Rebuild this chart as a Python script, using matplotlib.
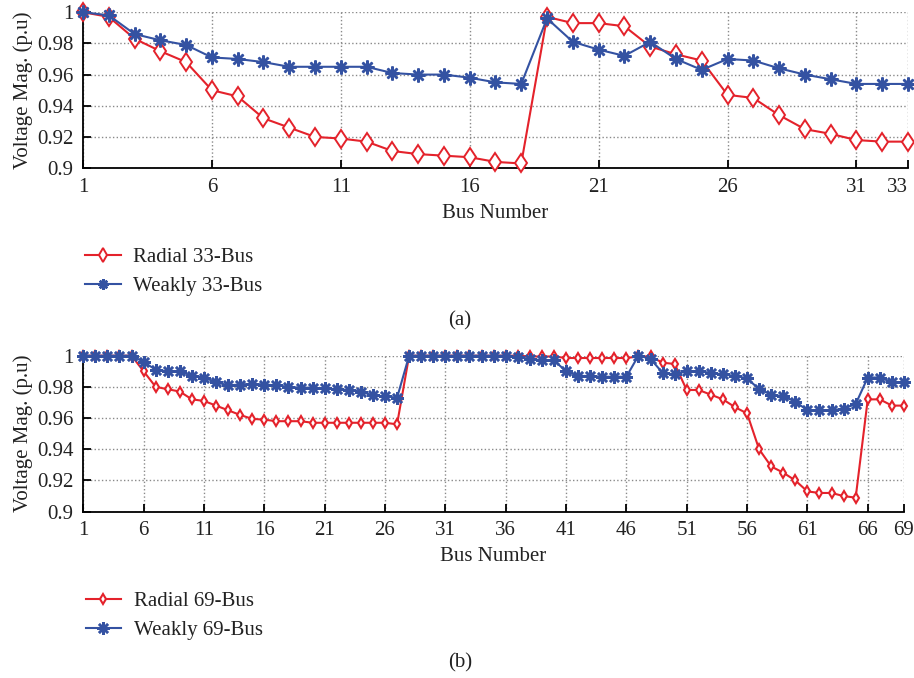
import numpy as np
import matplotlib.pyplot as plt

plt.rcParams['font.family'] = ['Liberation Serif', 'DejaVu Serif']

red = '#e4222b'
blue = '#3452a2'

# 33-bus system
bus33 = np.arange(1, 34)
radial33 = [1.000, 0.997, 0.983, 0.975, 0.968, 0.950, 0.946, 0.932, 0.926, 0.920,
            0.919, 0.917, 0.911, 0.909, 0.908, 0.907, 0.904, 0.903, 0.997, 0.993,
            0.993, 0.991, 0.978, 0.973, 0.969, 0.947, 0.945, 0.934, 0.925, 0.922,
            0.918, 0.917, 0.917]
weakly33 = [1.000, 0.998, 0.986, 0.982, 0.979, 0.971, 0.970, 0.968, 0.965, 0.965,
            0.965, 0.965, 0.961, 0.960, 0.960, 0.958, 0.955, 0.954, 0.996, 0.981,
            0.976, 0.972, 0.981, 0.970, 0.963, 0.970, 0.969, 0.964, 0.960, 0.957,
            0.954, 0.954, 0.954]

# 69-bus system
bus69 = np.arange(1, 70)
radial69 = [1.000, 1.000, 1.000, 1.000, 1.000, 0.990, 0.980, 0.9785, 0.977, 0.972,
            0.971, 0.968, 0.965, 0.962, 0.9595, 0.959, 0.958, 0.958, 0.958, 0.957,
            0.957, 0.957, 0.957, 0.957, 0.957, 0.957, 0.956, 1.000, 1.000, 1.000,
            1.000, 1.000, 1.000, 1.000, 1.000, 1.000, 1.000, 0.9995, 0.9995, 0.9995,
            0.9985, 0.9985, 0.9985, 0.9985, 0.9985, 0.9985, 0.9995, 0.9995, 0.9955, 0.9947,
            0.978, 0.978, 0.975, 0.972, 0.967, 0.963, 0.940, 0.929, 0.925, 0.920,
            0.913, 0.912, 0.912, 0.910, 0.909, 0.972, 0.972, 0.968, 0.968]
weakly69 = [1.000, 1.000, 1.000, 1.000, 1.000, 0.996, 0.991, 0.990, 0.990, 0.987,
            0.986, 0.983, 0.981, 0.9815, 0.982, 0.9815, 0.981, 0.980, 0.9795, 0.9795,
            0.979, 0.9785, 0.978, 0.977, 0.9745, 0.974, 0.973, 1.000, 1.000, 1.000,
            1.000, 1.000, 1.000, 1.000, 1.000, 1.000, 0.999, 0.998, 0.997, 0.997,
            0.990, 0.987, 0.987, 0.9865, 0.9865, 0.9865, 1.000, 0.998, 0.989, 0.988,
            0.990, 0.990, 0.989, 0.988, 0.987, 0.9855, 0.9785, 0.975, 0.974, 0.9705,
            0.965, 0.965, 0.965, 0.966, 0.969, 0.986, 0.986, 0.983, 0.983]

yticks = [0.9, 0.92, 0.94, 0.96, 0.98, 1.0]
ytick_labels = ['0.9', '0.92', '0.94', '0.96', '0.98', '1']
xticks33 = [1, 6, 11, 16, 21, 26, 31, 33]
xticks69 = [1, 6, 11, 16, 21, 26, 31, 36, 41, 46, 51, 56, 61, 66, 69]

asterisk = (8, 2, 0)
fs = 15

fig = plt.figure(figsize=(9.14, 6.78), dpi=100)
ax1 = fig.add_axes([0.0908, 0.752, 0.9026, 0.230])
ax2 = fig.add_axes([0.0911, 0.2453, 0.8979, 0.2301])


def style_axes(ax, xticks, xmax):
    ax.set_xlim(1, xmax)
    ax.set_ylim(0.9, 1.0)
    ax.set_xticks(xticks)
    ax.set_yticks(yticks)
    ax.set_yticklabels(ytick_labels)
    ax.grid(True, linestyle=':', color='#8a8a8a', linewidth=1.0)
    ax.spines['top'].set_visible(False)
    ax.spines['right'].set_visible(False)
    ax.spines['left'].set_linewidth(1.3)
    ax.spines['bottom'].set_linewidth(1.3)
    ax.tick_params(direction='in', length=6, width=1.3, labelsize=fs, pad=7,
                   labelcolor='#222222')
    ax.set_xlabel('Bus Number', fontsize=fs, labelpad=5, color='#222222')
    ax.set_ylabel('Voltage Mag. (p.u)', fontsize=fs, labelpad=3, color='#222222')


# (a)
ax1.plot(bus33, radial33, color=red, lw=1.5, marker='d', ms=9.5, mfc='white',
         mew=1.4, clip_on=False, zorder=3, label='Radial 33-Bus')
ax1.plot(bus33, weakly33, color=blue, lw=1.5, marker=asterisk, ms=10,
         mew=1.8, clip_on=False, zorder=3, label='Weakly 33-Bus')
style_axes(ax1, xticks33, 33)
ax1.get_xticklabels()[-1].set_horizontalalignment('right')
ax1.legend(loc='upper left', bbox_to_anchor=(-0.02, -0.39), frameon=False,
           fontsize=fs, handlelength=1.7, handletextpad=0.6, labelspacing=0.45,
           markerscale=0.75, labelcolor='#222222')
fig.text(0.503, 0.527, '(a)', ha='center', va='center', fontsize=fs, color='#222222')

# (b)
ax2.plot(bus69, radial69, color=red, lw=1.5, marker='d', ms=5.5, mfc='white',
         mew=1.5, clip_on=False, zorder=3, label='Radial 69-Bus')
ax2.plot(bus69, weakly69, color=blue, lw=1.5, marker=asterisk, ms=9,
         mew=1.8, clip_on=False, zorder=3, label='Weakly 69-Bus')
style_axes(ax2, xticks69, 69)
ax2.legend(loc='upper left', bbox_to_anchor=(-0.02, -0.39), frameon=False,
           fontsize=fs, handlelength=1.7, handletextpad=0.6, labelspacing=0.45,
           labelcolor='#222222')
fig.text(0.503, 0.022, '(b)', ha='center', va='center', fontsize=fs, color='#222222')

fig.savefig('out.png', dpi=100)
